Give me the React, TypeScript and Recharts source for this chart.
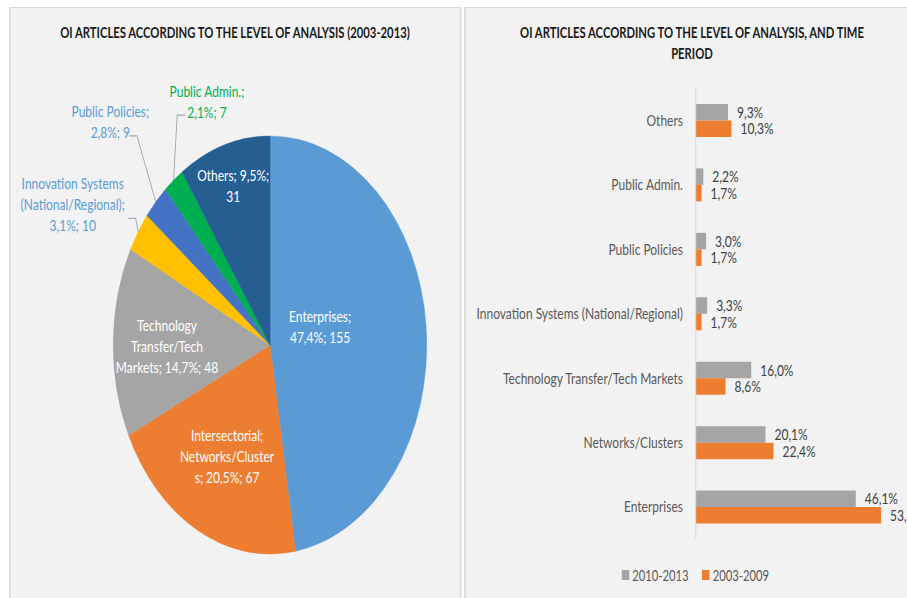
import React from 'react';
import { PieChart, Pie, Cell, BarChart, Bar, XAxis, YAxis, LabelList, Legend } from 'recharts';

// the reference is squeezed horizontally, so everything is laid out wider and scaled back in x
const SQUEEZE = 0.75;
const FONT = "Lato, 'Open Sans', sans-serif";

// left chart: articles by level of analysis, 2003-2013
const pieNames = [
  'Enterprises',
  'Intersectorial; Networks/Clusters',
  'Technology Transfer/Tech Markets',
  'Innovation Systems (National/Regional)',
  'Public Policies',
  'Public Admin.',
  'Others',
];
const pieCounts = [155, 67, 48, 10, 9, 7, 31];
const pieColors = ['#5B9BD5', '#ED7D31', '#A5A5A5', '#FFC000', '#4472C4', '#00B050', '#255E91'];

// right chart: share per level and period
const barCategories = [
  'Others',
  'Public Admin.',
  'Public Policies',
  'Innovation Systems (National/Regional)',
  'Technology Transfer/Tech Markets',
  'Networks/Clusters',
  'Enterprises',
];
const recentShare = [9.3, 2.2, 3.0, 3.3, 16.0, 20.1, 46.1];
const earlyShare = [10.3, 1.7, 1.7, 1.7, 8.6, 22.4, 53.4];
const seriesNames = ['2010-2013', '2003-2009'];

const pieData = pieNames.map((name, i) => ({ name, value: pieCounts[i] }));
const barData = barCategories.map((name, i) => ({ name, recent: recentShare[i], early: earlyShare[i] }));
const pieTotal = pieCounts.reduce((a, b) => a + b, 0);

const fmtPct = (v: number) => v.toFixed(1).replace('.', ',') + '%';

// how each pie label is wrapped, like the Excel original
const pieLabelLines = (i: number, p: string, v: number): string[] => {
  switch (i) {
    case 0: return ['Enterprises;', `${p}; ${v}`];
    case 1: return ['Intersectorial;', 'Networks/Cluster', `s; ${p}; ${v}`];
    case 2: return ['Technology', 'Transfer/Tech', `Markets; ${p}; ${v}`];
    case 3: return ['Innovation Systems', '(National/Regional);', `${p}; ${v}`];
    case 4: return ['Public Policies;', `${p}; ${v}`];
    case 5: return ['Public Admin.;', `${p}; ${v}`];
    default: return [`Others; ${p};`, `${v}`];
  }
};

// label placement: angle shift from slice middle, distance as share of radius, leader line
type LabelLayout = { dA: number; ratio: number; color: string; elbow?: number[]; end?: number[] };
const pieLabelLayout: LabelLayout[] = [
  { dA: 11.6, ratio: 0.333, color: '#ffffff' },
  { dA: 0, ratio: 0.593, color: '#ffffff' },
  { dA: 0.8, ratio: 0.657, color: '#ffffff' },
  { dA: 4.4, ratio: 1.43, color: '#5B9BD5', elbow: [84, 15.3], end: [74.3, 15.3] },
  { dA: -3.3, ratio: 1.48, color: '#5B9BD5', elbow: [35.5, 15.2], end: [25.3, 15.2] },
  { dA: -19, ratio: 1.237, color: '#00B050', elbow: [-39.6, 14.5], end: [-29.3, 14.5] },
  { dA: 0, ratio: 0.8, color: '#ffffff' },
];

const RAD = Math.PI / 180;
const polar = (cx: number, cy: number, r: number, angle: number) => ({
  x: cx + r * Math.cos(-angle * RAD),
  y: cy + r * Math.sin(-angle * RAD),
});

const renderPieLabel = (props: any) => {
  const { cx, cy, midAngle, outerRadius, index, value } = props;
  const lay = pieLabelLayout[index];
  const c = polar(cx, cy, outerRadius * lay.ratio, midAngle + lay.dA);
  const lines = pieLabelLines(index, fmtPct((value / pieTotal) * 100), value);
  const lh = 21;
  const y0 = c.y - ((lines.length - 1) * lh) / 2;
  let leader = null;
  if (lay.elbow && lay.end) {
    const e = polar(cx, cy, outerRadius, midAngle);
    const pts = `${e.x},${e.y} ${c.x + lay.elbow[0]},${c.y + lay.elbow[1]} ${c.x + lay.end[0]},${c.y + lay.end[1]}`;
    leader = <polyline points={pts} fill="none" stroke="#a6a6a6" strokeWidth={1.2} />;
  }
  return (
    <g key={`lbl-${index}`}>
      {leader}
      <text textAnchor="middle" dominantBaseline="central" fill={lay.color} fontSize={16} fontFamily={FONT}>
        {lines.map((l, i) => (
          <tspan key={i} x={c.x} y={y0 + i * lh} dominantBaseline="central">{l}</tspan>
        ))}
      </text>
    </g>
  );
};

const LegendContent = (props: any) => {
  const items = [...(props.payload || [])].sort(
    (a: any, b: any) => seriesNames.indexOf(a.value) - seriesNames.indexOf(b.value)
  );
  return (
    <div style={{ display: 'flex', alignItems: 'center', fontFamily: FONT, fontSize: 15, color: '#595959', lineHeight: '20px' }}>
      {items.map((p: any, i: number) => (
        <span key={i} style={{ display: 'flex', alignItems: 'center', marginRight: 18 }}>
          <span style={{ display: 'inline-block', width: 10, height: 10, background: p.color, marginRight: 4 }} />
          {p.value}
        </span>
      ))}
    </div>
  );
};

const titleStyle: React.CSSProperties = {
  position: 'absolute',
  fontFamily: FONT,
  fontWeight: 700,
  fontSize: 15,
  color: '#1a1a1a',
  textAlign: 'center',
  lineHeight: '21px',
};

export default function App() {
  return (
    <div style={{ position: 'absolute', left: 0, top: 0, width: 907, height: 598, overflow: 'hidden', background: '#fff' }}>
      <div style={{ position: 'absolute', left: 0, top: 0, width: 907 / SQUEEZE, height: 598, transform: `scaleX(${SQUEEZE})`, transformOrigin: '0 0' }}>
        <div style={{ position: 'absolute', left: 12, top: 7, width: 602.7, height: 620, background: '#f2f2f2', border: '1px solid #d9d9d9', borderLeftWidth: 2, borderRightWidth: 2, boxSizing: 'border-box' }} />
        <div style={{ position: 'absolute', left: 618.7, top: 7, width: 700, height: 620, background: '#f2f2f2', border: '1px solid #d9d9d9', borderLeftWidth: 2, borderRightWidth: 2, boxSizing: 'border-box' }} />

        <div style={{ ...titleStyle, left: 12, width: 602.7, top: 21.5 }}>
          OI ARTICLES ACCORDING TO THE LEVEL OF ANALYSIS (2003-2013)
        </div>
        <div style={{ ...titleStyle, left: 619, width: 607.3, top: 21.5 }}>
          OI ARTICLES ACCORDING TO THE LEVEL OF ANALYSIS, AND TIME<br />PERIOD
        </div>

        <div style={{ position: 'absolute', left: 0, top: 0 }}>
          <PieChart width={614} height={598} margin={{ top: 0, right: 0, bottom: 0, left: 0 }}>
            <Pie
              data={pieData}
              dataKey="value"
              nameKey="name"
              cx={360}
              cy={345}
              outerRadius={209}
              startAngle={90}
              endAngle={-270}
              label={renderPieLabel}
              labelLine={false}
              isAnimationActive={false}
            >
              {pieData.map((d, i) => (
                <Cell key={`cell-${i}`} fill={pieColors[i]} stroke={pieColors[i]} strokeWidth={0.5} />
              ))}
            </Pie>
          </PieChart>
        </div>

        <div style={{ position: 'absolute', left: 619, top: 0 }}>
          <BarChart
            layout="vertical"
            width={590}
            height={598}
            data={barData}
            margin={{ top: 88, right: 3.6, bottom: 59, left: 0 }}
            barGap={0}
            barSize={16.5}
          >
            <XAxis type="number" domain={[0, 60]} hide />
            <YAxis
              type="category"
              dataKey="name"
              width={308.6}
              tickSize={0}
              tickMargin={17}
              interval={0}
              tickLine={false}
              axisLine={{ stroke: '#d9d9d9', strokeWidth: 1.3 }}
              tick={{ fill: '#595959', fontSize: 16, fontFamily: FONT }}
            />
            <Legend
              layout="horizontal"
              verticalAlign="middle"
              align="center"
              content={<LegendContent />}
              wrapperStyle={{ left: 210, top: 565, width: 'auto' }}
            />
            <Bar dataKey="recent" name={seriesNames[0]} fill="#A5A5A5" isAnimationActive={false}>
              <LabelList dataKey="recent" position="right" offset={12} formatter={(v: any) => fmtPct(Number(v))} fill="#404040" fontSize={16} fontFamily={FONT} />
            </Bar>
            <Bar dataKey="early" name={seriesNames[1]} fill="#ED7D31" isAnimationActive={false}>
              <LabelList dataKey="early" position="right" offset={12} formatter={(v: any) => fmtPct(Number(v))} fill="#404040" fontSize={16} fontFamily={FONT} />
            </Bar>
          </BarChart>
        </div>
      </div>
    </div>
  );
}
